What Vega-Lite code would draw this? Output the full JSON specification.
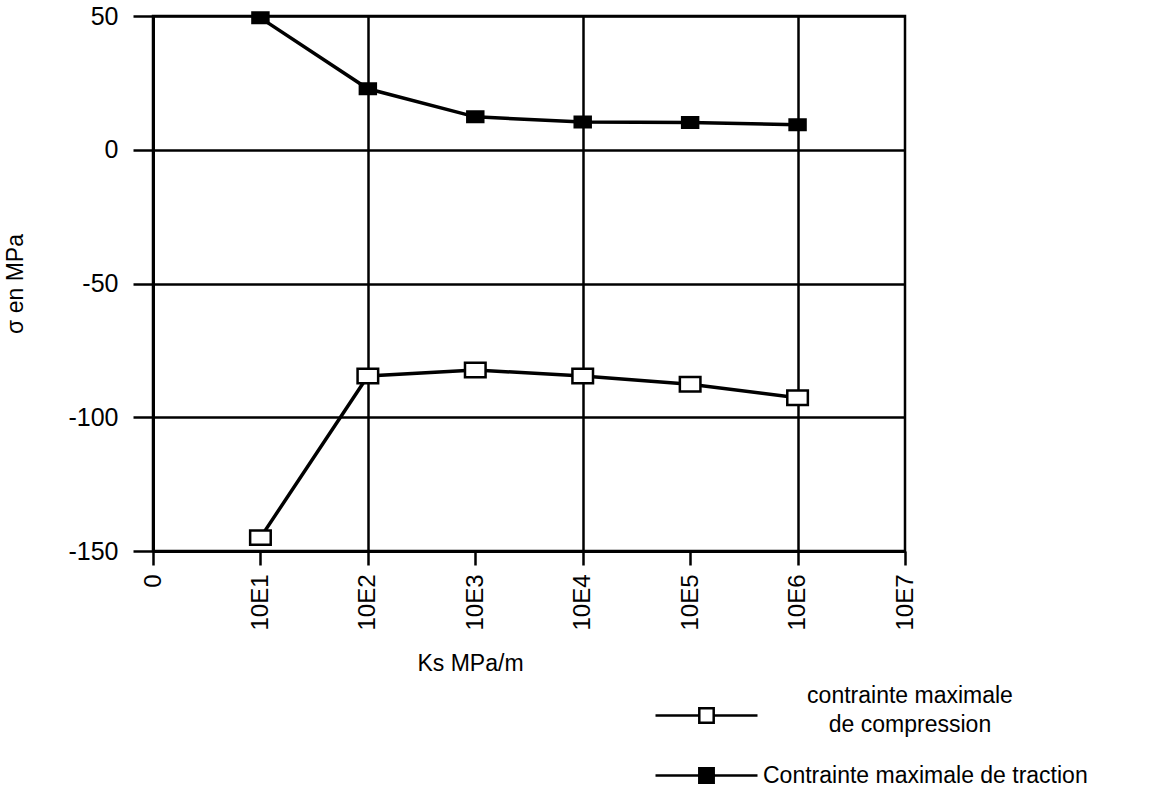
{
  "$schema": "https://vega.github.io/schema/vega-lite/v6.json",
  "width": 752,
  "height": 535,
  "autosize": {"type": "none"},
  "padding": {"left": 153, "top": 16, "right": 258, "bottom": 252},
  "background": "white",
  "config": {
    "font": "Liberation Sans",
    "view": {"stroke": "black", "strokeWidth": 2.5}
  },
  "data": {
    "values": [
      {"Ks": "10E1", "sigma": -145, "serie": "compression"},
      {"Ks": "10E2", "sigma": -84.6, "serie": "compression"},
      {"Ks": "10E3", "sigma": -82.3, "serie": "compression"},
      {"Ks": "10E4", "sigma": -84.6, "serie": "compression"},
      {"Ks": "10E5", "sigma": -87.7, "serie": "compression"},
      {"Ks": "10E6", "sigma": -92.7, "serie": "compression"},
      {"Ks": "10E1", "sigma": 49.3, "serie": "traction"},
      {"Ks": "10E2", "sigma": 22.8, "serie": "traction"},
      {"Ks": "10E3", "sigma": 12.3, "serie": "traction"},
      {"Ks": "10E4", "sigma": 10.4, "serie": "traction"},
      {"Ks": "10E5", "sigma": 10.2, "serie": "traction"},
      {"Ks": "10E6", "sigma": 9.3, "serie": "traction"}
    ]
  },
  "encoding": {
    "x": {
      "field": "Ks",
      "type": "ordinal",
      "scale": {"type": "point", "domain": ["0", "10E1", "10E2", "10E3", "10E4", "10E5", "10E6", "10E7"], "padding": 0},
      "axis": {
        "labelAngle": -90,
        "tickSize": 14,
        "tickColor": "black",
        "tickWidth": 2.5,
        "labelPadding": 9,
        "labelFontSize": 24,
        "labelColor": "black",
        "domainColor": "black",
        "domainWidth": 3,
        "grid": true,
        "gridColor": "black",
        "gridWidth": 2.5,
        "gridOpacity": {"condition": {"test": "indexof(['10E2','10E4','10E6'], datum.value) >= 0", "value": 1}, "value": 0},
        "title": "Ks MPa/m",
        "titleFontSize": 23,
        "titleFontWeight": "normal",
        "titleColor": "black",
        "titleX": 317,
        "titleY": 101,
        "titleBaseline": "top",
        "titleAlign": "center"
      }
    },
    "y": {
      "field": "sigma",
      "type": "quantitative",
      "scale": {"domain": [-150, 50], "nice": false, "zero": false},
      "axis": {
        "values": [-150, -100, -50, 0, 50],
        "labelExpr": "datum.value < 0 ? '-' + abs(datum.value) : '' + datum.value",
        "grid": true,
        "gridColor": "black",
        "gridWidth": 2.5,
        "gridOpacity": 1,
        "domainColor": "black",
        "domainWidth": 3,
        "tickColor": "black",
        "tickWidth": 2.5,
        "tickSize": 20,
        "labelFontSize": 25,
        "labelColor": "black",
        "labelPadding": 15,
        "title": "σ en MPa",
        "titleFontSize": 23,
        "titleFontWeight": "normal",
        "titleColor": "black",
        "titlePadding": 40
      }
    }
  },
  "layer": [
    {
      "mark": {"type": "line", "strokeWidth": 3.5},
      "encoding": {
        "stroke": {
          "field": "serie",
          "type": "nominal",
          "scale": {"domain": ["compression", "traction"], "range": ["black", "black"]},
          "legend": {
            "title": null,
            "orient": "none",
            "legendX": 540,
            "legendY": 686,
            "padding": 0,
            "labelFontSize": 23,
            "labelColor": "black",
            "labelLimit": 600,
            "labelOffset": 43,
            "symbolSize": 576,
            "symbolType": "M-4.25,0H-0.6M0.6,0H4.25M-0.6,-0.6H0.6V0.6H-0.6Z",
            "symbolStrokeWidth": 2.5,
            "symbolStrokeColor": "black",
            "rowPadding": 25,
            "labelExpr": "datum.value == 'compression' ? ['contrainte maximale', 'de compression'] : 'Contrainte maximale de traction'",
            "encoding": {
              "symbols": {
                "fill": {"value": {"expr": "datum.value == 'compression' ? 'white' : 'black'"}},
                "stroke": {"value": "black"},
                "strokeWidth": {"value": 2.5},
                "opacity": {"value": 1}
              },
              "labels": {
                "align": {"value": {"expr": "datum.value == 'compression' ? 'center' : 'left'"}},
                "dx": {"value": {"expr": "datum.value == 'compression' ? 147 : 0"}},
                "dy": {"value": {"expr": "datum.value == 'compression' ? -20 : 0"}},
                "lineHeight": {"value": 29}
              }
            }
          }
        }
      }
    },
    {
      "transform": [{"filter": "datum.serie == 'compression'"}],
      "mark": {"type": "point", "filled": true, "fill": "white", "stroke": "black", "strokeWidth": 2.5, "opacity": 1, "size": 441, "shape": "M-0.98,-0.69H0.98V0.69H-0.98Z"},
      "encoding": {}
    },
    {
      "transform": [{"filter": "datum.serie == 'traction'"}],
      "mark": {"type": "point", "filled": true, "fill": "black", "stroke": "black", "strokeWidth": 2.5, "opacity": 1, "size": 441, "shape": "M-0.76,-0.5H0.76V0.5H-0.76Z"},
      "encoding": {}
    }
  ]
}
